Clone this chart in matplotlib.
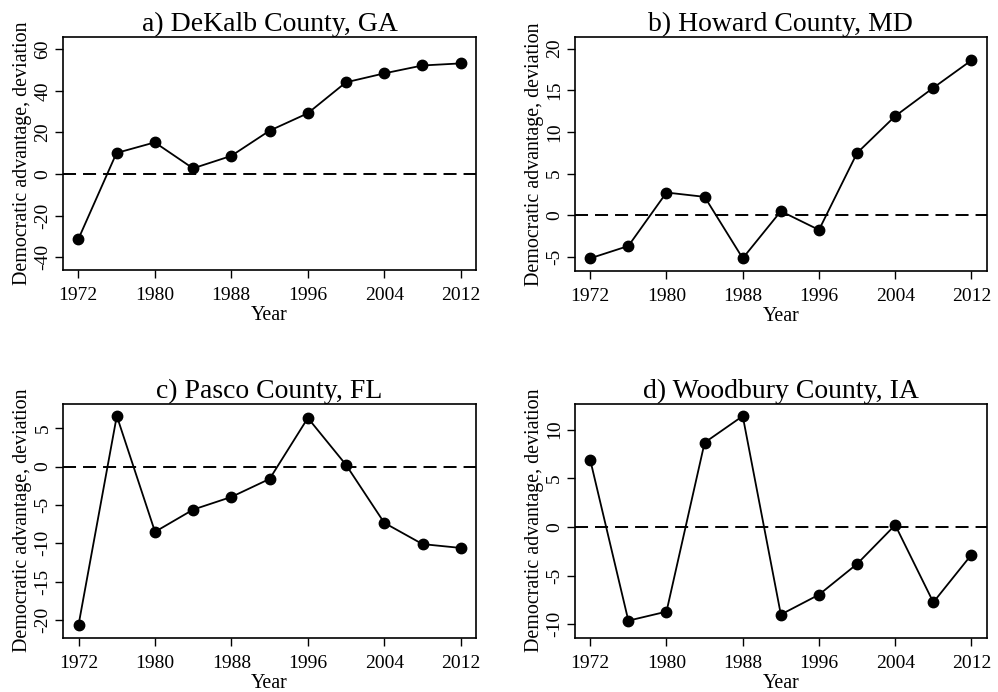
import matplotlib
matplotlib.use("Agg")
import matplotlib.pyplot as plt

plt.rcParams['font.family'] = ['Liberation Serif', 'DejaVu Serif']

years = [1972, 1976, 1980, 1984, 1988, 1992, 1996, 2000, 2004, 2008, 2012]
dekalb = [-31.4, 10.1, 15.2, 2.7, 8.7, 20.8, 29.2, 44.1, 48.4, 52.2, 53.2]
howard = [-5.18, -3.7, 2.72, 2.2, -5.18, 0.48, -1.77, 7.47, 11.9, 15.3, 18.6]
pasco = [-20.6, 6.6, -8.5, -5.6, -3.95, -1.6, 6.34, 0.22, -7.33, -10.1, -10.6]
woodbury = [6.89, -9.63, -8.7, 8.67, 11.4, -9.0, -6.96, -3.8, 0.2, -7.74, -2.85]

titles = ["a) DeKalb County, GA", "b) Howard County, MD",
          "c) Pasco County, FL", "d) Woodbury County, IA"]
series = [dekalb, howard, pasco, woodbury]
xticks = [1972, 1980, 1988, 1996, 2004, 2012]
yticks = [[-40, -20, 0, 20, 40, 60], [-5, 0, 5, 10, 15, 20],
          [-20, -15, -10, -5, 0, 5], [-10, -5, 0, 5, 10]]
ylims = [(-46.2, 65.9), (-6.67, 21.4), (-22.3, 8.2), (-11.38, 12.67)]

W, H = 998, 692
fig = plt.figure(figsize=(W / 100, H / 100), dpi=100)

boxes = [(63, 37, 476, 270), (575, 37, 986.7, 270.7),
         (63.3, 403.7, 476, 637.7), (575, 403.7, 986.7, 637.7)]

for i in range(4):
    l, t, r, b = boxes[i]
    ax = fig.add_axes([l / W, 1 - b / H, (r - l) / W, (b - t) / H])
    ax.axhline(0, color='black', lw=1.4, dashes=(6.7, 3.6))
    ax.plot(years, series[i], color='black', lw=1.3, marker='o', ms=7.5,
            markerfacecolor='black', markeredgecolor='black')
    ax.set_xlim(1970.4, 2013.6)
    ax.set_ylim(*ylims[i])
    ax.set_xticks(xticks)
    ax.set_xticklabels([str(x) for x in xticks])
    ax.set_yticks(yticks[i])
    ax.set_yticklabels([str(y) for y in yticks[i]], rotation=90, va='center')
    ax.tick_params(direction='out', length=5.5, width=1, labelsize=14,
                   colors='black')
    ax.tick_params(axis='x', pad=7)
    ax.tick_params(axis='y', pad=3)
    for s in ax.spines.values():
        s.set_linewidth(1.2)
    ax.set_title(titles[i], fontsize=20, pad=3)
    ax.set_xlabel("Year", fontsize=14.4, labelpad=1.5)
    ax.set_ylabel("Democratic advantage, deviation", fontsize=14.4, labelpad=1.5)

fig.savefig("out.png", dpi=100)
